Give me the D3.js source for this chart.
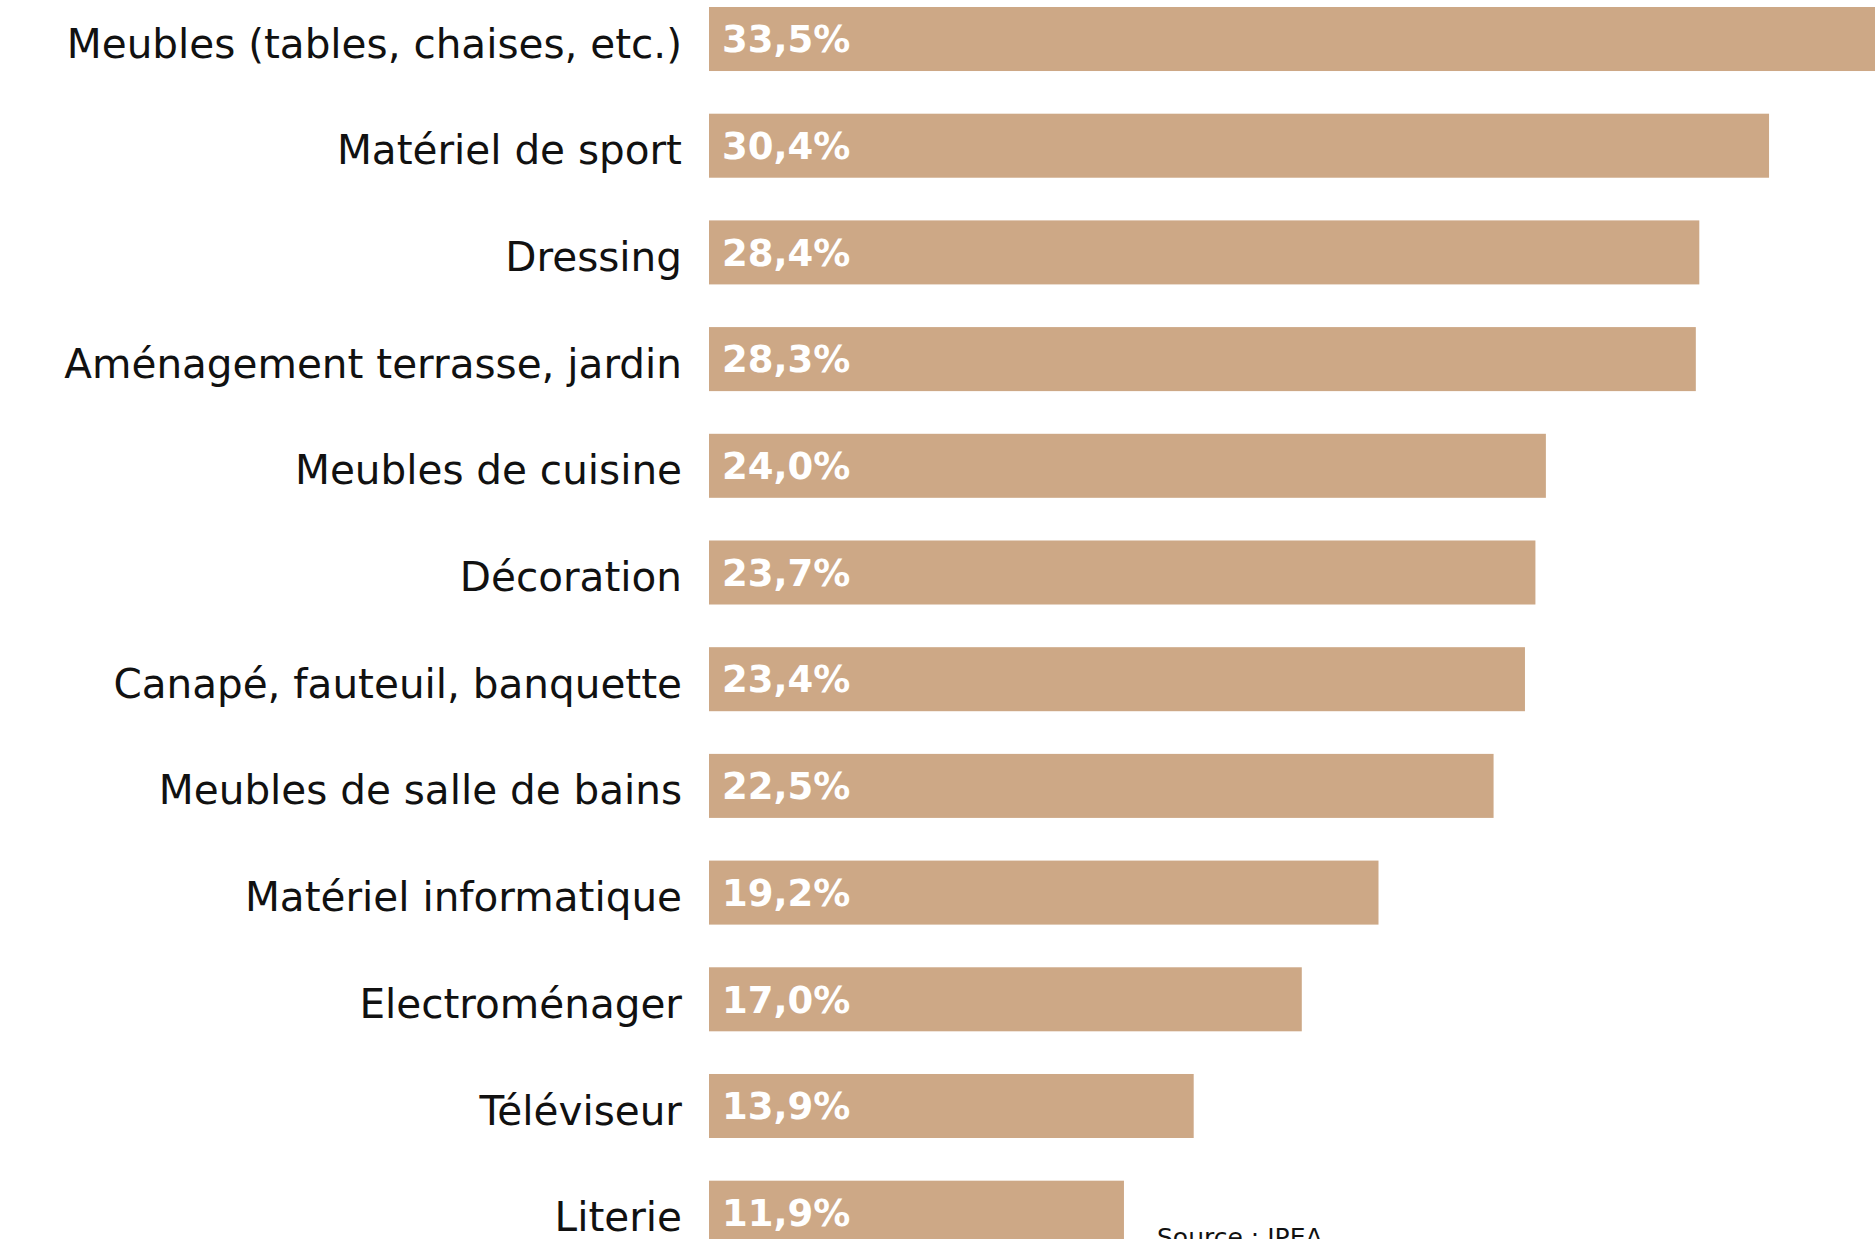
<!DOCTYPE html>
<html lang="fr">
<head>
<meta charset="utf-8">
<script src="https://cdn.jsdelivr.net/npm/d3@7"></script>
<style>
  html, body { margin: 0; padding: 0; background: #ffffff; overflow: hidden; }
  svg { display: block; }
</style>
</head>
<body>
<svg id="chart" width="1875" height="1239"></svg>
<script>
// Share of purchases by furniture / equipment category (%)
const categories = [
  "Meubles (tables, chaises, etc.)",
  "Matériel de sport",
  "Dressing",
  "Aménagement terrasse, jardin",
  "Meubles de cuisine",
  "Décoration",
  "Canapé, fauteuil, banquette",
  "Meubles de salle de bains",
  "Matériel informatique",
  "Electroménager",
  "Téléviseur",
  "Literie"
];
const values = [33.5, 30.4, 28.4, 28.3, 24.0, 23.7, 23.4, 22.5, 19.2, 17.0, 13.9, 11.9];
const sourceText = "Source : IPEA";

const svg = d3.select("#chart");
const barColor = "#cda886";
const fontFamily = "'DejaVu Sans', 'Noto Sans', sans-serif";

const x0 = 709, pxPerUnit = 34.87;
const x = d3.scaleLinear()
  .domain([0, d3.max(values)])
  .range([x0, x0 + pxPerUnit * d3.max(values)]);

const y = d3.scaleBand()
  .domain(categories)
  .range([7, 7 + 11 * 106.7 + 64])
  .paddingInner(0.4)
  .paddingOuter(0);

const rows = svg.append("g")
  .selectAll("g")
  .data(categories.map((c, i) => ({ cat: c, val: values[i] })))
  .join("g");

rows.append("rect")
  .attr("x", x(0))
  .attr("y", d => y(d.cat))
  .attr("width", d => x(d.val) - x(0))
  .attr("height", y.bandwidth())
  .attr("fill", barColor);

// category names, right-aligned against the bars
rows.append("text")
  .attr("x", x(0) - 27)
  .attr("y", d => y(d.cat) + y.bandwidth() / 2 + 18.6)
  .attr("text-anchor", "end")
  .attr("font-family", fontFamily)
  .attr("font-size", 40.5)
  .attr("fill", "#111")
  .text(d => d.cat);

const fmt = v => v.toFixed(1).replace(".", ",") + "%";

// value labels inside the bars
rows.append("text")
  .attr("x", x(0) + 13)
  .attr("y", d => y(d.cat) + y.bandwidth() / 2 + 13.3)
  .attr("font-family", fontFamily)
  .attr("font-size", 37)
  .attr("font-weight", 700)
  .attr("fill", "#ffffff")
  .text(d => fmt(d.val));

svg.append("text")
  .attr("x", 1157)
  .attr("y", 1246)
  .attr("font-family", fontFamily)
  .attr("font-size", 25)
  .attr("fill", "#111")
  .text(sourceText);
</script>
</body>
</html>
